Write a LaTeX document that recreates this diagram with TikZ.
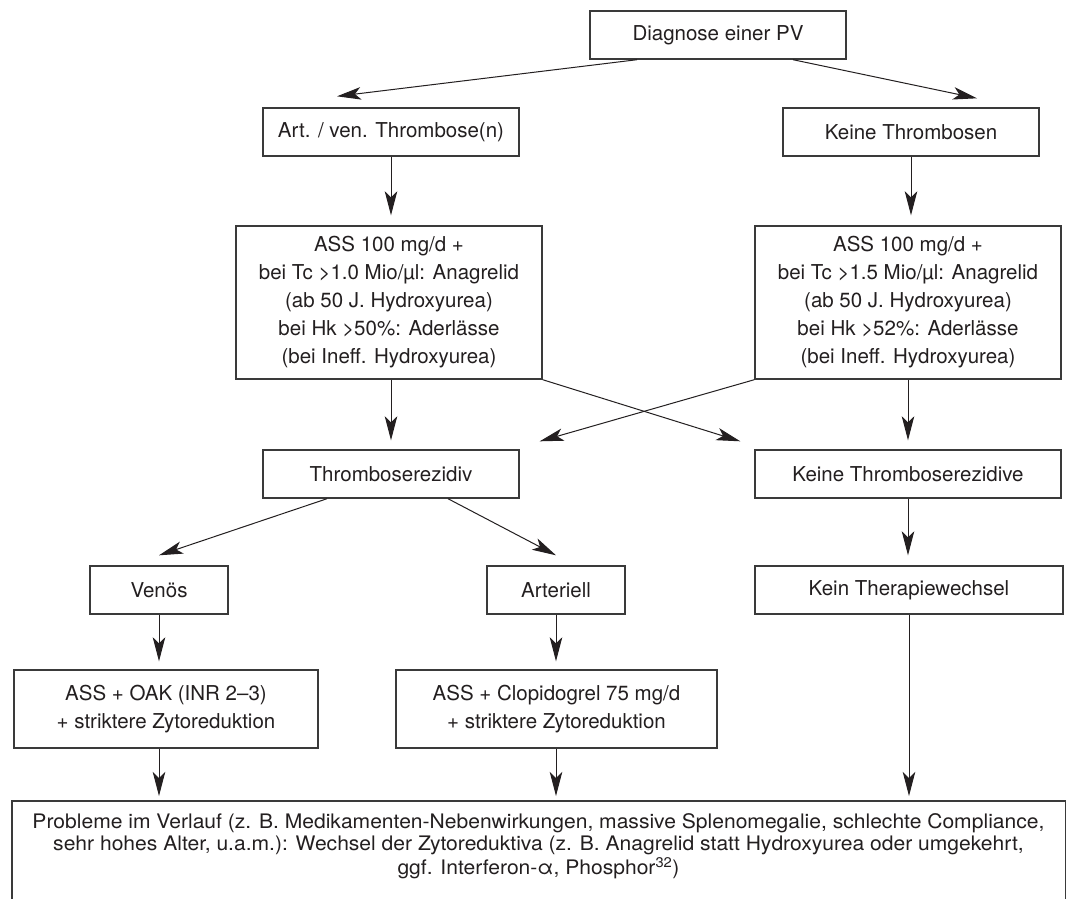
\documentclass[tikz,border=0pt]{standalone}
\usepackage{fontspec}
\setmainfont{TeX Gyre Heros}
\usetikzlibrary{arrows.meta,calc}
\definecolor{ink}{HTML}{231F20}
\definecolor{edge}{HTML}{3A3A3A}
\newlength\probw
\newcommand\probline{Probleme im Verlauf (z. B. Medikamenten-Nebenwirkungen, massive Splenomegalie, schlechte Compliance,}
\begin{document}
\settowidth\probw{\fontsize{20}{22}\selectfont\probline}%
\pgfmathsetmacro\probsx{1012/\probw}%
\begin{tikzpicture}[x=1pt,y=-1pt,
  box/.style={draw=edge,line width=1.4pt,inner sep=0pt,minimum height=48pt,align=center,text=ink,font=\fontsize{20.5}{28}\selectfont},
  arr/.style={draw=ink,line width=1pt,-{Stealth[length=24pt,width=12.5pt,inset=6pt]}},
  frame/.style={draw=edge,line width=1.4pt}]
\useasboundingbox (0,0) rectangle (1072,898);
\fill[white] (0,0) rectangle (1072,898);

\node[box,minimum width=256pt] (diag) at (718,35) {Diagnose einer PV};
\node[box,minimum width=256pt] (art) at (391,132) {Art. / ven. Thrombose(n)};
\node[box,minimum width=256pt] (keine) at (911,132) {Keine Thrombosen};
\node[box,minimum width=306pt,minimum height=153pt] (bigL) at (389,302.5)
  {ASS 100 mg/d +\\bei Tc >1.0 Mio/µl: Anagrelid\\(ab 50 J. Hydroxyurea)\\bei Hk >50\%: Aderlässe\\(bei Ineff. Hydroxyurea)};
\node[box,minimum width=306pt,minimum height=153pt] (bigR) at (908,302.5)
  {ASS 100 mg/d +\\bei Tc >1.5 Mio/µl: Anagrelid\\(ab 50 J. Hydroxyurea)\\bei Hk >52\%: Aderlässe\\(bei Ineff. Hydroxyurea)};
\node[box,minimum width=256pt] (rez) at (391,474) {Thromboserezidiv};
\node[box,minimum width=306pt] (krez) at (908,474) {Keine Thromboserezidive};
\node[box,minimum width=138pt] (ven) at (159,590) {Venös};
\node[box,minimum width=138pt] (art2) at (556,590) {Arteriell};
\node[box,minimum width=308pt] (kein) at (909,590) {Kein Therapiewechsel};
\node[box,minimum width=304pt,minimum height=78pt] (oak) at (166,709) {ASS + OAK (INR 2–3)\\+ striktere Zytoreduktion};
\node[box,minimum width=321pt,minimum height=78pt] (clop) at (556.5,709) {ASS + Clopidogrel 75 mg/d\\+ striktere Zytoreduktion};

\node[inner sep=0pt,minimum width=1053pt,minimum height=130pt,anchor=north] (prob) at (538.5,801) {};
\draw[frame] (prob.south west) |- (prob.north east) -- (prob.south east);
\node[anchor=north,inner sep=0pt,text=ink] (probtext) at ([yshift=-12pt]prob.north)
  {\scalebox{\probsx}[1]{\fontsize{20}{22}\selectfont\begin{tabular}{@{}c@{}}
  \probline\\
  sehr hohes Alter, u.a.m.): Wechsel der Zytoreduktiva (z. B. Anagrelid statt Hydroxyurea oder umgekehrt,\\
  ggf. Interferon-α, Phosphor\textsuperscript{32})
  \end{tabular}}};

\draw[arr] ([xshift=-81pt]diag.south) -- ([xshift=-54pt,yshift=11pt]art.north);
\draw[arr] ([xshift=75pt]diag.south) -- ([xshift=66pt,yshift=9pt]keine.north);
\draw[arr] (art.south) -- ([yshift=10pt]art.south |- bigL.north);
\draw[arr] (keine.south) -- ([yshift=10pt]keine.south |- bigR.north);
\draw[arr] (bigL.south -| rez.south) -- ([yshift=9pt]rez.north);
\draw[arr] (bigR.south) -- ([yshift=9pt]krez.north);
\draw[arr] (bigL.south east) -- ([xshift=-14pt,yshift=8pt]krez.north west);
\draw[arr] (bigR.south west) -- ([xshift=20pt,yshift=8pt]rez.north east);
\draw[arr] ([xshift=-64pt]rez.south) -- ([yshift=10pt]ven.north);
\draw[arr] ([xshift=57pt]rez.south) -- ([yshift=10pt]art2.north);
\draw[arr] (krez.south) -- ([yshift=10pt]krez.south |- kein.north);
\draw[arr] (ven.south) -- ([yshift=8pt]ven.south |- oak.north);
\draw[arr] (art2.south) -- ([yshift=8pt]art2.south |- clop.north);
\draw[arr] (ven.south |- oak.south) -- ([yshift=5pt]ven.south |- prob.north);
\draw[arr] (art2.south |- clop.south) -- ([yshift=5pt]art2.south |- prob.north);
\draw[arr] (kein.south) -- ([yshift=5pt]kein.south |- prob.north);
\end{tikzpicture}
\end{document}
